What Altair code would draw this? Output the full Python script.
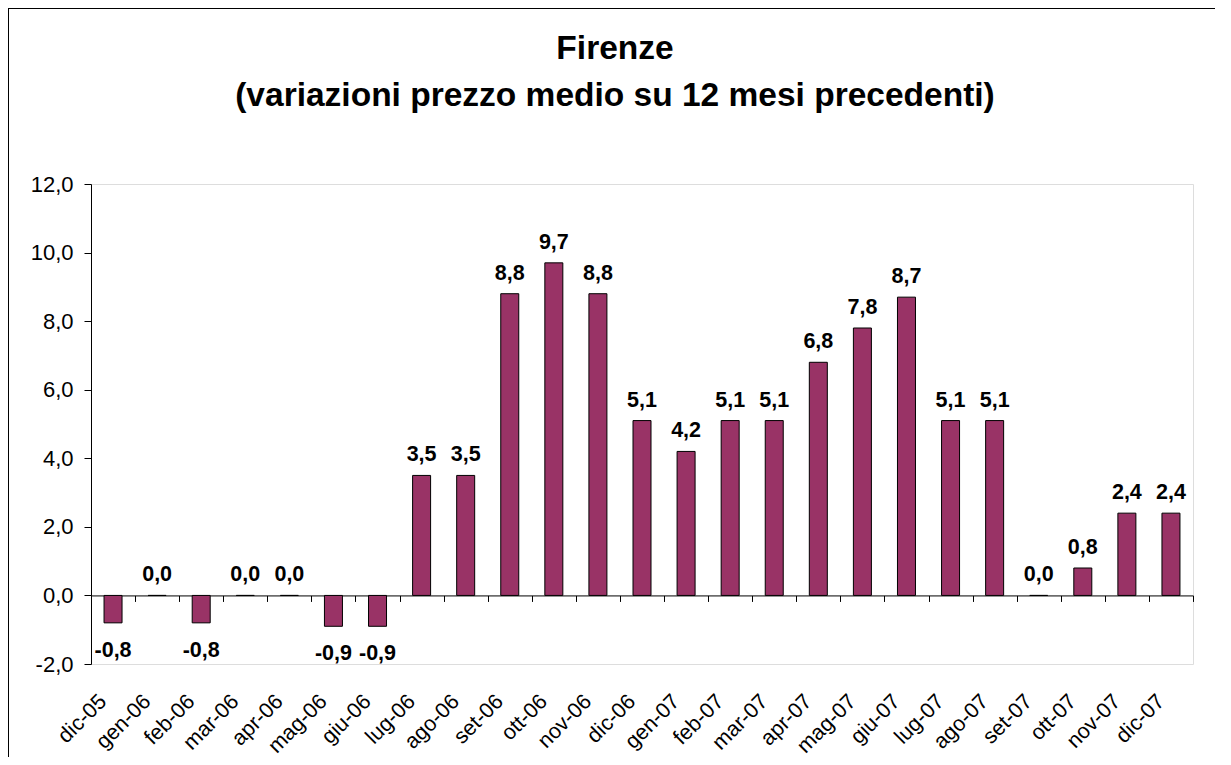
import altair as alt
import pandas as pd

categories = ["dic-05", "gen-06", "feb-06", "mar-06", "apr-06", "mag-06", "giu-06",
              "lug-06", "ago-06", "set-06", "ott-06", "nov-06", "dic-06", "gen-07",
              "feb-07", "mar-07", "apr-07", "mag-07", "giu-07", "lug-07", "ago-07",
              "set-07", "ott-07", "nov-07", "dic-07"]
values = [-0.8, 0.0, -0.8, 0.0, 0.0, -0.9, -0.9, 3.5, 3.5, 8.8, 9.7, 8.8, 5.1, 4.2,
          5.1, 5.1, 6.8, 7.8, 8.7, 5.1, 5.1, 0.0, 0.8, 2.4, 2.4]
y_ticks = [-2, 0, 2, 4, 6, 8, 10, 12]

df = pd.DataFrame({"mese": categories, "valore": values})

FONT = "Liberation Sans"
W, H = 1102, 480
YMIN, YMAX = -2, 12
zero_px = H * YMAX / (YMAX - YMIN)

fmt_expr = "replace(replace(format(datum.{f}, '.1f'), '.', ','), '\u2212', '-')"

x_enc = alt.X(
    "mese:N", sort=categories, title=None,
    scale=alt.Scale(paddingInner=0, paddingOuter=0),
    axis=alt.Axis(
        offset=-(H - zero_px), domain=True, domainColor="black", domainWidth=1,
        ticks=True, tickBand="extent", tickSize=6, tickColor="black",
        labelAngle=-45, labelAlign="right", labelBaseline="middle",
        labelPadding=(514 - zero_px - 6), labelOffset=-10,
        labelFont=FONT, labelFontSize=21.5, labelColor="black", grid=False,
    ),
)
y_scale = alt.Scale(domain=[YMIN, YMAX], nice=False, zero=False)

bars = alt.Chart(df).mark_bar(
    size=18, color="#993366", stroke="black", strokeWidth=1
).encode(
    x=x_enc,
    y=alt.Y("valore:Q", scale=y_scale, title=None,
            axis=alt.Axis(values=y_ticks, labelExpr=fmt_expr.format(f="value"),
                          domain=True, domainColor="black", ticks=True, tickSize=7,
                          tickColor="black", labelPadding=11, grid=False,
                          labelFont=FONT, labelFontSize=22, labelColor="black")),
)

base_text = alt.Chart(df).transform_calculate(
    lab=fmt_expr.format(f="valore")
)
pos_labels = base_text.transform_filter("datum.valore >= 0").mark_text(
    font=FONT, fontSize=21.5, fontWeight="bold", color="black",
    baseline="alphabetic", align="center", dy=-14
).encode(x=alt.X("mese:N", sort=categories), y=alt.Y("valore:Q", scale=y_scale), text="lab:N")

neg_labels = base_text.transform_filter("datum.valore < 0").mark_text(
    font=FONT, fontSize=21.5, fontWeight="bold", color="black",
    baseline="alphabetic", align="center", dy=34
).encode(x=alt.X("mese:N", sort=categories), y=alt.Y("valore:Q", scale=y_scale), text="lab:N")

frame_df = pd.DataFrame({"a": [0]})
frame_left = alt.Chart(frame_df).mark_rule(color="black", strokeWidth=1).encode(
    x=alt.value(-82.5), y=alt.value(-176), y2=alt.value(H + 93)
)
frame_top = alt.Chart(frame_df).mark_rule(color="black", strokeWidth=1).encode(
    x=alt.value(-83), x2=alt.value(W + 22), y=alt.value(-175.5)
)

chart = alt.layer(bars, pos_labels, neg_labels, frame_left, frame_top).properties(
    width=W, height=H,
    autosize=alt.AutoSizeParams(type="none"),
    padding={"left": 83, "top": 176, "right": 22, "bottom": 93},
    title=alt.Title(
        ["Firenze", "(variazioni prezzo medio su 12 mesi precedenti)"],
        font=FONT, fontSize=33.5, fontWeight="bold", color="black",
        anchor="middle", dx=-27, dy=106, offset=0, lineHeight=47,
    ),
).configure_view(stroke="#808080", strokeWidth=1).configure(background="white")

chart.save("out.html", embed_options={"renderer": "svg", "actions": False})
